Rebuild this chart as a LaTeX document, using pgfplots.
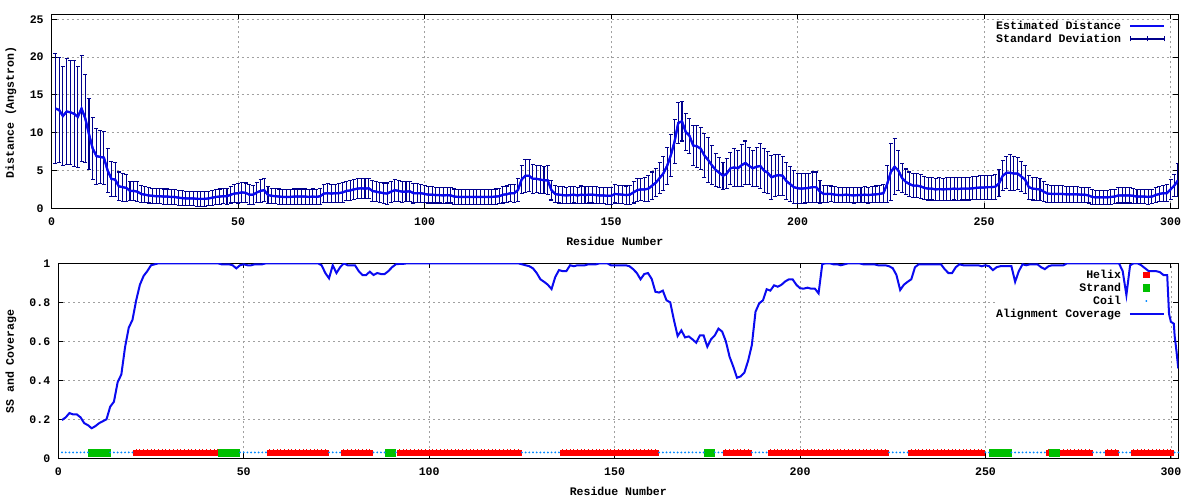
\documentclass[border=0pt]{standalone}
\usepackage{fontspec}
\setmainfont{Liberation Mono}
\usepackage{pgfplots}
\pgfplotsset{compat=1.18}
\usepackage{pgfplotstable}
\definecolor{meanblue}{RGB}{10,10,240}
\definecolor{errnavy}{RGB}{0,0,140}
\definecolor{helixred}{RGB}{255,0,0}
\definecolor{strandgreen}{RGB}{0,192,0}
\definecolor{coilblue}{RGB}{0,136,255}
\definecolor{gridgray}{RGB}{160,160,160}

\pgfplotsset{
  errlegend/.style={legend image code/.code={
    \draw[errnavy, line width=1.1bp] (0bp,0bp) -- (34bp,0bp);
    \draw[errnavy, line width=1.1bp] (0bp,-2.5bp) -- (0bp,2.5bp) (17bp,-2.5bp) -- (17bp,2.5bp) (34bp,-2.5bp) -- (34bp,2.5bp);}},
  linelegend/.style={legend image code/.code={\draw[##1] (0bp,0bp) -- (34bp,0bp);}},
  sslegend/.style={legend image code/.code={\draw[mark repeat=2,mark phase=2,##1] plot coordinates {(0bp,0bp) (16.3bp,0bp) (34bp,0bp)};}},
}

\pgfplotstableread{
r d sd
1 13.2 7.3
2 13.0 7.0
3 12.2 6.5
4 12.8 7.0
5 12.7 6.9
6 12.5 7.0
7 12.1 6.7
8 13.2 7.0
9 11.9 5.8
10 9.8 4.7
11 7.9 4.1
12 6.9 3.7
13 6.8 3.55
14 6.7 3.5
15 5.0 2.9
16 3.9 2.3
17 3.8 2.2
18 2.9 1.9
19 2.8 1.85
20 2.7 1.8
21 2.3 1.25
22 2.3 1.3
23 2.2 1.3
24 1.9 1.1
25 1.8 1.05
26 1.7 1.0
27 1.65 1.0
28 1.6 1.0
29 1.6 1.0
30 1.55 1.0
31 1.55 1.0
32 1.5 1.0
33 1.5 1.0
34 1.4 1.0
35 1.35 1.0
36 1.3 0.95
37 1.3 0.95
38 1.3 0.95
39 1.25 0.95
40 1.25 0.95
41 1.25 0.95
42 1.3 0.95
43 1.4 1.0
44 1.5 1.0
45 1.55 1.0
46 1.6 1.0
47 1.6 1.05
48 1.8 1.1
49 1.95 1.2
50 2.0 1.3
51 2.1 1.35
52 2.05 1.3
53 1.8 1.3
54 1.8 1.25
55 2.1 1.35
56 2.3 1.5
57 2.4 1.5
58 1.75 1.1
59 1.65 1.0
60 1.6 1.0
61 1.55 1.0
62 1.5 1.0
63 1.5 1.0
64 1.5 1.0
65 1.55 1.0
66 1.55 1.0
67 1.55 1.0
68 1.55 1.0
69 1.5 1.0
70 1.55 1.0
71 1.5 1.0
72 1.6 1.05
73 1.95 1.2
74 2.0 1.25
75 1.95 1.2
76 2.0 1.2
77 2.0 1.25
78 2.1 1.3
79 2.3 1.3
80 2.35 1.3
81 2.5 1.35
82 2.6 1.3
83 2.65 1.3
84 2.6 1.3
85 2.65 1.35
86 2.3 1.4
87 2.2 1.35
88 2.1 1.3
89 2.0 1.35
90 1.95 1.4
91 2.2 1.4
92 2.4 1.45
93 2.3 1.4
94 2.2 1.4
95 2.2 1.35
96 2.25 1.3
97 2.0 1.3
98 2.0 1.25
99 2.0 1.2
100 1.9 1.15
101 1.8 1.1
102 1.8 1.1
103 1.75 1.05
104 1.75 1.05
105 1.7 1.1
106 1.75 1.05
107 1.7 1.0
108 1.55 1.0
109 1.5 1.0
110 1.5 1.0
111 1.5 1.0
112 1.5 1.0
113 1.5 1.0
114 1.5 1.0
115 1.5 1.0
116 1.5 1.0
117 1.5 1.0
118 1.5 1.0
119 1.55 1.0
120 1.6 1.0
121 1.8 1.1
122 1.85 1.1
123 2.0 1.15
124 2.0 1.2
125 2.4 1.5
126 3.8 1.9
127 4.3 2.2
128 4.3 2.1
129 3.9 1.9
130 3.9 1.8
131 3.8 1.8
132 3.7 1.8
133 3.7 1.9
134 2.4 1.3
135 1.9 1.1
136 1.8 1.1
137 1.75 1.1
138 1.7 1.1
139 1.75 1.1
140 1.8 1.1
141 1.7 1.1
142 1.8 1.15
143 1.75 1.1
144 1.8 1.1
145 1.8 1.1
146 1.75 1.1
147 1.7 1.05
148 1.7 1.05
149 1.65 1.1
150 1.65 1.1
151 1.9 1.2
152 1.85 1.2
153 1.8 1.2
154 1.75 1.2
155 1.8 1.25
156 2.1 1.4
157 2.4 1.5
158 2.5 1.5
159 2.5 1.6
160 2.6 1.7
161 3.0 1.8
162 3.4 1.9
163 4.0 2.0
164 4.6 2.2
165 5.6 2.5
166 7.0 2.8
167 8.8 2.9
168 11.3 2.7
169 11.5 2.6
170 10.1 2.4
171 9.6 2.3
172 8.3 2.6
173 8.2 2.8
174 7.9 2.8
175 7.0 2.9
176 6.4 3.0
177 5.7 2.6
178 5.1 2.2
179 4.7 2.0
180 4.3 1.8
181 4.6 2.0
182 5.3 2.1
183 5.4 2.5
184 5.3 2.4
185 5.7 2.8
186 6.0 2.9
187 5.6 2.5
188 5.3 2.4
189 5.5 2.6
190 5.6 3.0
191 5.0 2.9
192 4.7 2.8
193 4.1 2.9
194 4.3 2.8
195 4.4 2.7
196 4.3 2.6
197 3.6 2.4
198 3.2 2.3
199 2.8 2.2
200 2.65 2.0
201 2.6 2.0
202 2.65 1.95
203 2.7 1.9
204 2.8 2.0
205 2.8 2.0
206 2.2 1.5
207 1.9 1.1
208 1.9 1.1
209 1.9 1.05
210 1.8 1.05
211 1.75 1.0
212 1.75 1.0
213 1.8 1.0
214 1.75 1.0
215 1.7 1.0
216 1.75 1.0
217 1.75 1.0
218 1.8 1.05
219 1.75 1.05
220 1.8 1.05
221 1.85 1.1
222 1.9 1.1
223 2.0 1.2
224 3.2 2.4
225 4.8 3.8
226 5.5 3.7
227 5.0 2.6
228 4.0 1.9
229 3.5 1.7
230 3.2 1.6
231 3.0 1.6
232 3.0 1.6
233 2.9 1.6
234 2.7 1.5
235 2.6 1.5
236 2.6 1.5
237 2.5 1.5
238 2.55 1.5
239 2.5 1.45
240 2.55 1.5
241 2.55 1.5
242 2.6 1.5
243 2.55 1.5
244 2.6 1.5
245 2.6 1.5
246 2.6 1.5
247 2.65 1.5
248 2.7 1.5
249 2.75 1.55
250 2.75 1.55
251 2.8 1.6
252 2.8 1.6
253 2.85 1.65
254 3.3 1.8
255 4.3 2.0
256 4.7 2.1
257 4.7 2.4
258 4.6 2.2
259 4.6 2.1
260 4.2 2.0
261 3.8 1.9
262 2.8 1.6
263 2.6 1.5
264 2.55 1.5
265 2.5 1.45
266 2.2 1.3
267 1.95 1.15
268 1.9 1.1
269 1.9 1.1
270 1.9 1.1
271 1.9 1.1
272 1.85 1.05
273 1.85 1.05
274 1.85 1.05
275 1.85 1.05
276 1.8 1.0
277 1.8 1.0
278 1.7 1.0
279 1.5 0.95
280 1.45 0.95
281 1.45 0.95
282 1.45 0.95
283 1.45 0.95
284 1.5 0.95
285 1.55 0.95
286 1.7 1.0
287 1.7 1.0
288 1.7 1.0
289 1.7 1.0
290 1.65 1.0
291 1.55 0.95
292 1.55 0.95
293 1.55 0.95
294 1.5 0.95
295 1.55 0.95
296 1.75 1.0
297 1.9 1.0
298 2.0 1.05
299 2.0 1.1
300 2.5 1.3
301 3.0 1.5
302 3.7 2.2
}\distdata

\pgfplotstableread{
r cov h s c
1 0.196 nan nan 0.03
2 0.210 nan nan 0.03
3 0.232 nan nan 0.03
4 0.225 nan nan 0.03
5 0.225 nan nan 0.03
6 0.210 nan nan 0.03
7 0.180 nan nan 0.03
8 0.170 nan nan 0.03
9 0.154 nan 0.03 nan
10 0.165 nan 0.03 nan
11 0.180 nan 0.03 nan
12 0.190 nan 0.03 nan
13 0.200 nan 0.03 nan
14 0.265 nan nan 0.03
15 0.290 nan nan 0.03
16 0.390 nan nan 0.03
17 0.430 nan nan 0.03
18 0.570 nan nan 0.03
19 0.670 nan nan 0.03
20 0.710 nan nan 0.03
21 0.810 0.03 nan nan
22 0.890 0.03 nan nan
23 0.935 0.03 nan nan
24 0.960 0.03 nan nan
25 0.990 0.03 nan nan
26 0.995 0.03 nan nan
27 1.000 0.03 nan nan
28 1.000 0.03 nan nan
29 1.000 0.03 nan nan
30 1.000 0.03 nan nan
31 1.000 0.03 nan nan
32 1.000 0.03 nan nan
33 1.000 0.03 nan nan
34 1.000 0.03 nan nan
35 1.000 0.03 nan nan
36 1.000 0.03 nan nan
37 1.000 0.03 nan nan
38 1.000 0.03 nan nan
39 1.000 0.03 nan nan
40 1.000 0.03 nan nan
41 1.000 0.03 nan nan
42 1.000 0.03 nan nan
43 1.000 0.03 nan nan
44 0.995 nan 0.03 nan
45 0.995 nan 0.03 nan
46 0.995 nan 0.03 nan
47 0.990 nan 0.03 nan
48 0.974 nan 0.03 nan
49 0.990 nan nan 0.03
50 0.995 nan nan 0.03
51 0.990 nan nan 0.03
52 0.990 nan nan 0.03
53 0.995 nan nan 0.03
54 0.995 nan nan 0.03
55 0.995 nan nan 0.03
56 1.000 nan nan 0.03
57 1.000 0.03 nan nan
58 1.000 0.03 nan nan
59 1.000 0.03 nan nan
60 1.000 0.03 nan nan
61 1.000 0.03 nan nan
62 1.000 0.03 nan nan
63 1.000 0.03 nan nan
64 1.000 0.03 nan nan
65 1.000 0.03 nan nan
66 1.000 0.03 nan nan
67 1.000 0.03 nan nan
68 1.000 0.03 nan nan
69 1.000 0.03 nan nan
70 1.000 0.03 nan nan
71 0.990 0.03 nan nan
72 0.950 0.03 nan nan
73 0.923 nan nan 0.03
74 0.990 nan nan 0.03
75 0.950 nan nan 0.03
76 0.980 nan nan 0.03
77 1.000 0.03 nan nan
78 0.990 0.03 nan nan
79 0.990 0.03 nan nan
80 0.990 0.03 nan nan
81 0.960 0.03 nan nan
82 0.940 0.03 nan nan
83 0.940 0.03 nan nan
84 0.957 0.03 nan nan
85 0.940 nan nan 0.03
86 0.950 nan nan 0.03
87 0.945 nan nan 0.03
88 0.945 nan nan 0.03
89 0.960 nan 0.03 nan
90 0.980 nan 0.03 nan
91 0.995 nan nan 0.03
92 0.997 0.03 nan nan
93 0.997 0.03 nan nan
94 1.000 0.03 nan nan
95 1.000 0.03 nan nan
96 1.000 0.03 nan nan
97 1.000 0.03 nan nan
98 1.000 0.03 nan nan
99 1.000 0.03 nan nan
100 1.000 0.03 nan nan
101 1.000 0.03 nan nan
102 1.000 0.03 nan nan
103 1.000 0.03 nan nan
104 1.000 0.03 nan nan
105 1.000 0.03 nan nan
106 1.000 0.03 nan nan
107 1.000 0.03 nan nan
108 1.000 0.03 nan nan
109 1.000 0.03 nan nan
110 1.000 0.03 nan nan
111 1.000 0.03 nan nan
112 1.000 0.03 nan nan
113 1.000 0.03 nan nan
114 1.000 0.03 nan nan
115 1.000 0.03 nan nan
116 1.000 0.03 nan nan
117 1.000 0.03 nan nan
118 1.000 0.03 nan nan
119 1.000 0.03 nan nan
120 1.000 0.03 nan nan
121 1.000 0.03 nan nan
122 1.000 0.03 nan nan
123 1.000 0.03 nan nan
124 1.000 0.03 nan nan
125 0.995 nan nan 0.03
126 0.990 nan nan 0.03
127 0.985 nan nan 0.03
128 0.974 nan nan 0.03
129 0.950 nan nan 0.03
130 0.918 nan nan 0.03
131 0.905 nan nan 0.03
132 0.890 nan nan 0.03
133 0.868 nan nan 0.03
134 0.930 nan nan 0.03
135 0.965 nan nan 0.03
136 0.960 0.03 nan nan
137 0.960 0.03 nan nan
138 0.990 0.03 nan nan
139 0.985 0.03 nan nan
140 0.990 0.03 nan nan
141 0.990 0.03 nan nan
142 0.990 0.03 nan nan
143 0.995 0.03 nan nan
144 0.995 0.03 nan nan
145 0.995 0.03 nan nan
146 1.000 0.03 nan nan
147 1.000 0.03 nan nan
148 1.000 0.03 nan nan
149 0.990 0.03 nan nan
150 0.990 0.03 nan nan
151 0.990 0.03 nan nan
152 0.990 0.03 nan nan
153 0.990 0.03 nan nan
154 0.985 0.03 nan nan
155 0.970 0.03 nan nan
156 0.950 0.03 nan nan
157 0.918 0.03 nan nan
158 0.945 0.03 nan nan
159 0.950 0.03 nan nan
160 0.920 0.03 nan nan
161 0.854 0.03 nan nan
162 0.850 nan nan 0.03
163 0.860 nan nan 0.03
164 0.810 nan nan 0.03
165 0.800 nan nan 0.03
166 0.709 nan nan 0.03
167 0.627 nan nan 0.03
168 0.656 nan nan 0.03
169 0.620 nan nan 0.03
170 0.625 nan nan 0.03
171 0.610 nan nan 0.03
172 0.593 nan nan 0.03
173 0.630 nan nan 0.03
174 0.630 nan nan 0.03
175 0.572 nan 0.03 nan
176 0.610 nan 0.03 nan
177 0.630 nan nan 0.03
178 0.665 nan nan 0.03
179 0.650 nan nan 0.03
180 0.600 0.03 nan nan
181 0.521 0.03 nan nan
182 0.470 0.03 nan nan
183 0.413 0.03 nan nan
184 0.420 0.03 nan nan
185 0.440 0.03 nan nan
186 0.500 0.03 nan nan
187 0.580 nan nan 0.03
188 0.752 nan nan 0.03
189 0.795 nan nan 0.03
190 0.810 nan nan 0.03
191 0.867 nan nan 0.03
192 0.860 0.03 nan nan
193 0.887 0.03 nan nan
194 0.880 0.03 nan nan
195 0.890 0.03 nan nan
196 0.907 0.03 nan nan
197 0.918 0.03 nan nan
198 0.918 0.03 nan nan
199 0.890 0.03 nan nan
200 0.872 0.03 nan nan
201 0.870 0.03 nan nan
202 0.875 0.03 nan nan
203 0.870 0.03 nan nan
204 0.870 0.03 nan nan
205 0.846 0.03 nan nan
206 0.996 0.03 nan nan
207 1.000 0.03 nan nan
208 1.000 0.03 nan nan
209 0.995 0.03 nan nan
210 0.995 0.03 nan nan
211 0.990 0.03 nan nan
212 0.995 0.03 nan nan
213 1.000 0.03 nan nan
214 1.000 0.03 nan nan
215 1.000 0.03 nan nan
216 1.000 0.03 nan nan
217 0.995 0.03 nan nan
218 0.995 0.03 nan nan
219 0.995 0.03 nan nan
220 0.995 0.03 nan nan
221 0.990 0.03 nan nan
222 0.990 0.03 nan nan
223 0.990 0.03 nan nan
224 0.985 nan nan 0.03
225 0.975 nan nan 0.03
226 0.940 nan nan 0.03
227 0.863 nan nan 0.03
228 0.890 nan nan 0.03
229 0.905 nan nan 0.03
230 0.918 0.03 nan nan
231 0.980 0.03 nan nan
232 0.995 0.03 nan nan
233 0.995 0.03 nan nan
234 0.995 0.03 nan nan
235 0.995 0.03 nan nan
236 0.995 0.03 nan nan
237 0.995 0.03 nan nan
238 0.995 0.03 nan nan
239 0.970 0.03 nan nan
240 0.950 0.03 nan nan
241 0.950 0.03 nan nan
242 0.980 0.03 nan nan
243 0.995 0.03 nan nan
244 0.990 0.03 nan nan
245 0.990 0.03 nan nan
246 0.990 0.03 nan nan
247 0.990 0.03 nan nan
248 0.990 0.03 nan nan
249 0.985 0.03 nan nan
250 0.990 nan nan 0.03
251 0.985 nan nan 0.03
252 0.965 nan 0.03 nan
253 0.980 nan 0.03 nan
254 0.985 nan 0.03 nan
255 0.985 nan 0.03 nan
256 0.985 nan 0.03 nan
257 0.985 nan nan 0.03
258 0.905 nan nan 0.03
259 0.960 nan nan 0.03
260 0.995 nan nan 0.03
261 0.990 nan nan 0.03
262 0.995 nan nan 0.03
263 0.995 nan nan 0.03
264 0.995 nan nan 0.03
265 0.980 nan nan 0.03
266 0.970 nan nan 0.03
267 0.985 0.03 nan nan
268 0.990 nan 0.03 nan
269 0.990 nan 0.03 nan
270 0.990 0.03 nan nan
271 0.990 0.03 nan nan
272 1.000 0.03 nan nan
273 1.000 0.03 nan nan
274 1.000 0.03 nan nan
275 1.000 0.03 nan nan
276 1.000 0.03 nan nan
277 1.000 0.03 nan nan
278 1.000 0.03 nan nan
279 1.000 nan nan 0.03
280 1.000 nan nan 0.03
281 1.000 nan nan 0.03
282 1.000 nan nan 0.03
283 1.000 0.03 nan nan
284 1.000 0.03 nan nan
285 1.000 0.03 nan nan
286 1.000 nan nan 0.03
287 0.960 nan nan 0.03
288 0.837 nan nan 0.03
289 0.990 nan nan 0.03
290 1.000 0.03 nan nan
291 1.000 0.03 nan nan
292 0.990 0.03 nan nan
293 0.975 0.03 nan nan
294 0.960 0.03 nan nan
295 0.960 0.03 nan nan
296 0.960 0.03 nan nan
297 0.955 0.03 nan nan
298 0.940 0.03 nan nan
299 0.940 0.03 nan nan
299.5 0.740 nan nan nan
300 0.700 0.03 nan nan
300.8 0.690 nan nan nan
301 0.630 nan nan 0.03
301.5 0.550 nan nan nan
302 0.460 nan nan 0.03
}\ssdata

\newcommand{\gpfont}{\fontsize{11.6}{13}\selectfont\bfseries}

\begin{document}
\begin{tikzpicture}[font=\gpfont]
\useasboundingbox (0bp,0bp) rectangle (1200bp,-500bp);
\pgfplotsset{
 gp/.style={
  scale only axis, anchor=south west,
  font=\gpfont,
  tick label style={font=\gpfont},
  label style={font=\gpfont},
  xmin=0, xmax=302, xtick={0,50,100,150,200,250,300},
  grid=major,
  major grid style={gridgray, line width=0.8bp, dash pattern=on 2bp off 3bp},
  axis line style={line width=1bp, black},
  tick align=inside, major tick length=5bp,
  tick style={black, line width=1bp},
  /pgf/number format/assume math mode=true,
  xticklabel style={yshift=-6bp},
  yticklabel style={xshift=-4.5bp},
  legend cell align=right, legend plot pos=right,
  legend style={font=\gpfont, draw=none, fill=none, inner sep=0pt, outer sep=0pt,
    row sep=0pt, column sep=8bp, anchor=north east,
    nodes={inner sep=0pt, text height=10.35bp, text depth=2.65bp}},
  xlabel={Residue Number},
  xlabel style={at={(axis description cs:0.5,-0.169)}, anchor=center},
 }
}
% ---------- top panel ----------
\begin{axis}[gp, at={(51.7bp,-208.3bp)}, width=1126.3bp, height=194bp,
  ymin=0, ymax=25.66, ytick={0,5,10,15,20,25},
  ylabel={Distance (Angstron)},
  ylabel style={at={(axis description cs:-0.0363,0.494)}, anchor=center},
  legend style={at={(axis description cs:0.9885,0.9732)}}]
\addplot[color=meanblue, draw=meanblue, line width=2bp, mark=none, linelegend,
  error bars/.cd, y dir=both, y explicit, error mark=-,
  error bar style={draw=errnavy, color=errnavy, line width=1.05bp, solid},
  error mark options={rotate=90, draw=errnavy, color=errnavy, line width=1.05bp, mark size=2bp, solid}]
  table[x=r, y=d, y error=sd] {\distdata};
\addlegendentry{Estimated Distance}
\addlegendimage{errlegend}
\addlegendentry{Standard Deviation}
\addplot[meanblue, line width=2.2bp, mark=none, forget plot] table[x=r, y=d] {\distdata};
\end{axis}
% ---------- bottom panel ----------
\begin{axis}[gp, at={(58.3bp,-458.3bp)}, width=1120bp, height=195bp,
  ymin=0, ymax=1, ytick={0,0.2,0.4,0.6,0.8,1},
  ylabel={SS and Coverage},
  ylabel style={at={(axis description cs:-0.0424,0.496)}, anchor=center},
  legend style={at={(axis description cs:0.9881,0.9733)}},
  sslegend]
\fill[white] (axis cs:253.1,0.79) rectangle (axis cs:298.4,0.81);
\addplot[only marks, mark=square*, mark size=2.6bp, color=helixred, mark options={draw=none, fill=helixred}]
  table[x=r, y=h] {\ssdata};
\addlegendentry{Helix}
\addplot[only marks, mark=|, mark size=3.4bp, color=helixred, mark options={line width=0.9bp}, forget plot]
  table[x=r, y=h] {\ssdata};
\addplot[only marks, mark=square*, mark size=3.35bp, color=strandgreen, mark options={draw=none, fill=strandgreen}]
  table[x=r, y=s] {\ssdata};
\addlegendentry{Strand}
\addplot[only marks, mark=*, mark size=0.7bp, color=coilblue, mark options={draw=none, fill=coilblue}]
  table[x=r, y=c] {\ssdata};
\addlegendentry{Coil}
\addplot[meanblue, line width=2bp, mark=none]
  table[x=r, y=cov] {\ssdata};
\addlegendentry{Alignment Coverage}
\end{axis}
\end{tikzpicture}
\end{document}
